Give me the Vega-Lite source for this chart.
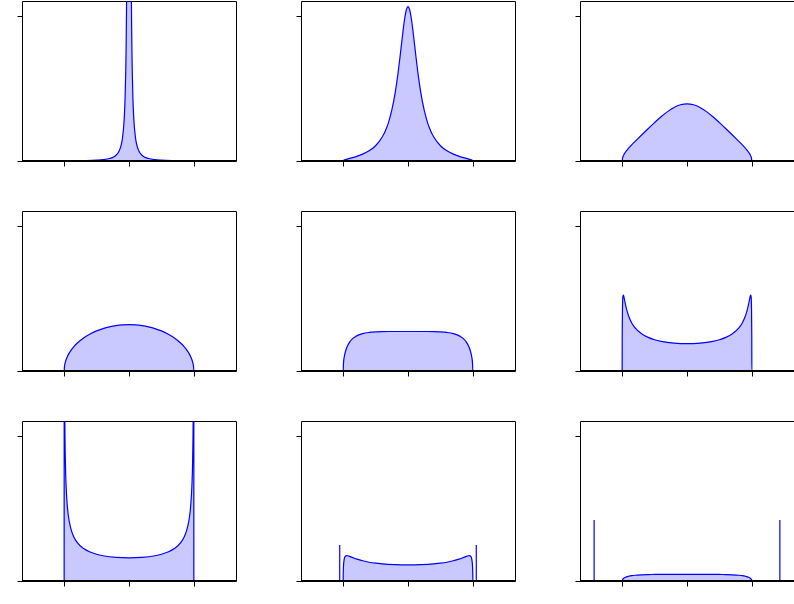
{
"$schema": "https://vega.github.io/schema/vega-lite/v6.json",
"autosize": {"type": "pad"},
"padding": {"left": 16, "top": 0, "right": 0, "bottom": 0},
"background": "white",
"config": {
  "view": {"stroke": "#000", "strokeWidth": 1},
  "axis": {"labels": false, "title": null, "grid": false, "domain": false, "tickSize": 5, "tickColor": "#000", "tickWidth": 1},
  "line": {"color": "#0000ff", "strokeWidth": 1.2, "interpolate": "monotone"},
  "area": {"color": "#0000ff", "opacity": 0.21, "interpolate": "monotone"}
},
"datasets": {"d": [
{"p":1,"x":-1.5,"y":0},{"p":1,"x":-1,"y":0},{"p":1,"x":-0.9,"y":0.0009},{"p":1,"x":-0.7,"y":0.0024},{"p":1,"x":-0.5,"y":0.0056},{"p":1,"x":-0.4,"y":0.0093},{"p":1,"x":-0.3,"y":0.0172},{"p":1,"x":-0.25,"y":0.0251},{"p":1,"x":-0.2,"y":0.0397},{"p":1,"x":-0.15,"y":0.071},{"p":1,"x":-0.12,"y":0.111},{"p":1,"x":-0.1,"y":0.16},{"p":1,"x":-0.08,"y":0.249},{"p":1,"x":-0.07,"y":0.324},{"p":1,"x":-0.06,"y":0.438},{"p":1,"x":-0.05,"y":0.623},{"p":1,"x":-0.045,"y":0.763},{"p":1,"x":-0.04,"y":0.953},{"p":1,"x":-0.035,"y":1.224},{"p":1,"x":-0.03,"y":1.621},{"p":1,"x":-0.02,"y":3.235},{"p":1,"x":-0.01,"y":8.04},{"p":1,"x":-0.005,"y":12.78},{"p":1,"x":0,"y":15.9},{"p":1,"x":0.005,"y":12.78},{"p":1,"x":0.01,"y":8.04},{"p":1,"x":0.02,"y":3.235},{"p":1,"x":0.03,"y":1.621},{"p":1,"x":0.035,"y":1.224},{"p":1,"x":0.04,"y":0.953},{"p":1,"x":0.045,"y":0.763},{"p":1,"x":0.05,"y":0.623},{"p":1,"x":0.06,"y":0.438},{"p":1,"x":0.07,"y":0.324},{"p":1,"x":0.08,"y":0.249},{"p":1,"x":0.1,"y":0.16},{"p":1,"x":0.12,"y":0.111},{"p":1,"x":0.15,"y":0.071},{"p":1,"x":0.2,"y":0.0397},{"p":1,"x":0.25,"y":0.0251},{"p":1,"x":0.3,"y":0.0172},{"p":1,"x":0.4,"y":0.0093},{"p":1,"x":0.5,"y":0.0056},{"p":1,"x":0.7,"y":0.0024},{"p":1,"x":0.9,"y":0.0009},{"p":1,"x":1,"y":0},{"p":1,"x":1.5,"y":0},
{"p":2,"x":-1.5,"y":0},{"p":2,"x":-1,"y":0},{"p":2,"x":-0.99,"y":0.005},{"p":2,"x":-0.95,"y":0.011},{"p":2,"x":-0.9,"y":0.018},{"p":2,"x":-0.8,"y":0.03},{"p":2,"x":-0.7,"y":0.047},{"p":2,"x":-0.6,"y":0.07},{"p":2,"x":-0.5,"y":0.105},{"p":2,"x":-0.4,"y":0.163},{"p":2,"x":-0.35,"y":0.207},{"p":2,"x":-0.3,"y":0.266},{"p":2,"x":-0.25,"y":0.349},{"p":2,"x":-0.2,"y":0.463},{"p":2,"x":-0.175,"y":0.535},{"p":2,"x":-0.15,"y":0.617},{"p":2,"x":-0.125,"y":0.708},{"p":2,"x":-0.1,"y":0.805},{"p":2,"x":-0.075,"y":0.9},{"p":2,"x":-0.05,"y":0.983},{"p":2,"x":-0.025,"y":1.04},{"p":2,"x":0,"y":1.061},{"p":2,"x":0.025,"y":1.04},{"p":2,"x":0.05,"y":0.983},{"p":2,"x":0.075,"y":0.9},{"p":2,"x":0.1,"y":0.805},{"p":2,"x":0.125,"y":0.708},{"p":2,"x":0.15,"y":0.617},{"p":2,"x":0.175,"y":0.535},{"p":2,"x":0.2,"y":0.463},{"p":2,"x":0.25,"y":0.349},{"p":2,"x":0.3,"y":0.266},{"p":2,"x":0.35,"y":0.207},{"p":2,"x":0.4,"y":0.163},{"p":2,"x":0.5,"y":0.105},{"p":2,"x":0.6,"y":0.07},{"p":2,"x":0.7,"y":0.047},{"p":2,"x":0.8,"y":0.03},{"p":2,"x":0.9,"y":0.018},{"p":2,"x":0.95,"y":0.011},{"p":2,"x":0.99,"y":0.005},{"p":2,"x":1,"y":0},{"p":2,"x":1.5,"y":0},
{"p":3,"x":-1.5,"y":0},{"p":3,"x":-1,"y":0},{"p":3,"x":-0.995,"y":0.018},{"p":3,"x":-0.98,"y":0.037},{"p":3,"x":-0.95,"y":0.06},{"p":3,"x":-0.9,"y":0.088},{"p":3,"x":-0.85,"y":0.113},{"p":3,"x":-0.8,"y":0.135},{"p":3,"x":-0.7,"y":0.179},{"p":3,"x":-0.6,"y":0.222},{"p":3,"x":-0.5,"y":0.264},{"p":3,"x":-0.4,"y":0.304},{"p":3,"x":-0.3,"y":0.3395},{"p":3,"x":-0.2,"y":0.368},{"p":3,"x":-0.1,"y":0.3865},{"p":3,"x":0,"y":0.393},{"p":3,"x":0.1,"y":0.3865},{"p":3,"x":0.2,"y":0.368},{"p":3,"x":0.3,"y":0.3395},{"p":3,"x":0.4,"y":0.304},{"p":3,"x":0.5,"y":0.264},{"p":3,"x":0.6,"y":0.222},{"p":3,"x":0.7,"y":0.179},{"p":3,"x":0.8,"y":0.135},{"p":3,"x":0.85,"y":0.113},{"p":3,"x":0.9,"y":0.088},{"p":3,"x":0.95,"y":0.06},{"p":3,"x":0.98,"y":0.037},{"p":3,"x":0.995,"y":0.018},{"p":3,"x":1,"y":0},{"p":3,"x":1.5,"y":0},
{"p":4,"x":-1.5,"y":0},{"p":4,"x":-1,"y":0},{"p":4,"x":-0.995,"y":0.0318},{"p":4,"x":-0.98,"y":0.0633},{"p":4,"x":-0.95,"y":0.0994},{"p":4,"x":-0.9,"y":0.1387},{"p":4,"x":-0.85,"y":0.1677},{"p":4,"x":-0.8,"y":0.191},{"p":4,"x":-0.7,"y":0.2273},{"p":4,"x":-0.6,"y":0.2546},{"p":4,"x":-0.5,"y":0.2757},{"p":4,"x":-0.4,"y":0.2917},{"p":4,"x":-0.3,"y":0.3036},{"p":4,"x":-0.2,"y":0.3119},{"p":4,"x":-0.1,"y":0.3167},{"p":4,"x":0,"y":0.3183},{"p":4,"x":0.1,"y":0.3167},{"p":4,"x":0.2,"y":0.3119},{"p":4,"x":0.3,"y":0.3036},{"p":4,"x":0.4,"y":0.2917},{"p":4,"x":0.5,"y":0.2757},{"p":4,"x":0.6,"y":0.2546},{"p":4,"x":0.7,"y":0.2273},{"p":4,"x":0.8,"y":0.191},{"p":4,"x":0.85,"y":0.1677},{"p":4,"x":0.9,"y":0.1387},{"p":4,"x":0.95,"y":0.0994},{"p":4,"x":0.98,"y":0.0633},{"p":4,"x":0.995,"y":0.0318},{"p":4,"x":1,"y":0},{"p":4,"x":1.5,"y":0},
{"p":5,"x":-1.5,"y":0},{"p":5,"x":-1,"y":0},{"p":5,"x":-0.995,"y":0.0537},{"p":5,"x":-0.98,"y":0.104},{"p":5,"x":-0.96,"y":0.1411},{"p":5,"x":-0.93,"y":0.176},{"p":5,"x":-0.9,"y":0.199},{"p":5,"x":-0.85,"y":0.2241},{"p":5,"x":-0.8,"y":0.2397},{"p":5,"x":-0.7,"y":0.257},{"p":5,"x":-0.6,"y":0.2651},{"p":5,"x":-0.5,"y":0.2689},{"p":5,"x":-0.4,"y":0.2707},{"p":5,"x":-0.3,"y":0.2714},{"p":5,"x":-0.2,"y":0.2716},{"p":5,"x":0,"y":0.2717},{"p":5,"x":0.2,"y":0.2716},{"p":5,"x":0.3,"y":0.2714},{"p":5,"x":0.4,"y":0.2707},{"p":5,"x":0.5,"y":0.2689},{"p":5,"x":0.6,"y":0.2651},{"p":5,"x":0.7,"y":0.257},{"p":5,"x":0.8,"y":0.2397},{"p":5,"x":0.85,"y":0.2241},{"p":5,"x":0.9,"y":0.199},{"p":5,"x":0.93,"y":0.176},{"p":5,"x":0.96,"y":0.1411},{"p":5,"x":0.98,"y":0.104},{"p":5,"x":0.995,"y":0.0537},{"p":5,"x":1,"y":0},{"p":5,"x":1.5,"y":0},
{"p":6,"x":-1.5,"y":0},{"p":6,"x":-1,"y":0},{"p":6,"x":-0.999,"y":0.2367},{"p":6,"x":-0.995,"y":0.4346},{"p":6,"x":-0.99,"y":0.5025},{"p":6,"x":-0.985,"y":0.5207},{"p":6,"x":-0.98,"y":0.5212},{"p":6,"x":-0.97,"y":0.5045},{"p":6,"x":-0.95,"y":0.4599},{"p":6,"x":-0.93,"y":0.4216},{"p":6,"x":-0.9,"y":0.3779},{"p":6,"x":-0.85,"y":0.3287},{"p":6,"x":-0.8,"y":0.2962},{"p":6,"x":-0.7,"y":0.2555},{"p":6,"x":-0.6,"y":0.2311},{"p":6,"x":-0.5,"y":0.2151},{"p":6,"x":-0.4,"y":0.2042},{"p":6,"x":-0.2,"y":0.192},{"p":6,"x":0,"y":0.1884},{"p":6,"x":0.2,"y":0.192},{"p":6,"x":0.4,"y":0.2042},{"p":6,"x":0.5,"y":0.2151},{"p":6,"x":0.6,"y":0.2311},{"p":6,"x":0.7,"y":0.2555},{"p":6,"x":0.8,"y":0.2962},{"p":6,"x":0.85,"y":0.3287},{"p":6,"x":0.9,"y":0.3779},{"p":6,"x":0.93,"y":0.4216},{"p":6,"x":0.95,"y":0.4599},{"p":6,"x":0.97,"y":0.5045},{"p":6,"x":0.98,"y":0.5212},{"p":6,"x":0.985,"y":0.5207},{"p":6,"x":0.99,"y":0.5025},{"p":6,"x":0.995,"y":0.4346},{"p":6,"x":0.999,"y":0.2367},{"p":6,"x":1,"y":0},{"p":6,"x":1.5,"y":0},
{"p":7,"x":-1.5,"y":0},{"p":7,"x":-1,"y":0},{"p":7,"x":-0.999,"y":3.56},{"p":7,"x":-0.995,"y":1.5936},{"p":7,"x":-0.99,"y":1.1282},{"p":7,"x":-0.98,"y":0.7998},{"p":7,"x":-0.97,"y":0.6547},{"p":7,"x":-0.95,"y":0.5097},{"p":7,"x":-0.93,"y":0.433},{"p":7,"x":-0.9,"y":0.3651},{"p":7,"x":-0.85,"y":0.3021},{"p":7,"x":-0.8,"y":0.2653},{"p":7,"x":-0.7,"y":0.2229},{"p":7,"x":-0.6,"y":0.1989},{"p":7,"x":-0.5,"y":0.1838},{"p":7,"x":-0.4,"y":0.1737},{"p":7,"x":-0.2,"y":0.1624},{"p":7,"x":0,"y":0.1592},{"p":7,"x":0.2,"y":0.1624},{"p":7,"x":0.4,"y":0.1737},{"p":7,"x":0.5,"y":0.1838},{"p":7,"x":0.6,"y":0.1989},{"p":7,"x":0.7,"y":0.2229},{"p":7,"x":0.8,"y":0.2653},{"p":7,"x":0.85,"y":0.3021},{"p":7,"x":0.9,"y":0.3651},{"p":7,"x":0.93,"y":0.433},{"p":7,"x":0.95,"y":0.5097},{"p":7,"x":0.97,"y":0.6547},{"p":7,"x":0.98,"y":0.7998},{"p":7,"x":0.99,"y":1.1282},{"p":7,"x":0.995,"y":1.5936},{"p":7,"x":0.999,"y":3.56},{"p":7,"x":1,"y":0},{"p":7,"x":1.5,"y":0},
{"p":8,"x":-1.5,"y":0},{"p":8,"x":-1,"y":0},{"p":8,"x":-0.999,"y":0.048},{"p":8,"x":-0.995,"y":0.1},{"p":8,"x":-0.99,"y":0.13},{"p":8,"x":-0.98,"y":0.157},{"p":8,"x":-0.97,"y":0.1675},{"p":8,"x":-0.95,"y":0.174},{"p":8,"x":-0.93,"y":0.1735},{"p":8,"x":-0.9,"y":0.169},{"p":8,"x":-0.85,"y":0.161},{"p":8,"x":-0.8,"y":0.152},{"p":8,"x":-0.7,"y":0.139},{"p":8,"x":-0.6,"y":0.129},{"p":8,"x":-0.5,"y":0.1225},{"p":8,"x":-0.4,"y":0.118},{"p":8,"x":-0.2,"y":0.1124},{"p":8,"x":0,"y":0.1105},{"p":8,"x":0.2,"y":0.1124},{"p":8,"x":0.4,"y":0.118},{"p":8,"x":0.5,"y":0.1225},{"p":8,"x":0.6,"y":0.129},{"p":8,"x":0.7,"y":0.139},{"p":8,"x":0.8,"y":0.152},{"p":8,"x":0.85,"y":0.161},{"p":8,"x":0.9,"y":0.169},{"p":8,"x":0.93,"y":0.1735},{"p":8,"x":0.95,"y":0.174},{"p":8,"x":0.97,"y":0.1675},{"p":8,"x":0.98,"y":0.157},{"p":8,"x":0.99,"y":0.13},{"p":8,"x":0.995,"y":0.1},{"p":8,"x":0.999,"y":0.048},{"p":8,"x":1,"y":0},{"p":8,"x":1.5,"y":0},
{"p":9,"x":-1.5,"y":0},{"p":9,"x":-1,"y":0},{"p":9,"x":-0.995,"y":0.0088},{"p":9,"x":-0.98,"y":0.0171},{"p":9,"x":-0.95,"y":0.0255},{"p":9,"x":-0.9,"y":0.0329},{"p":9,"x":-0.85,"y":0.0371},{"p":9,"x":-0.8,"y":0.0397},{"p":9,"x":-0.7,"y":0.0427},{"p":9,"x":-0.6,"y":0.0442},{"p":9,"x":-0.5,"y":0.0449},{"p":9,"x":-0.4,"y":0.0452},{"p":9,"x":-0.2,"y":0.0455},{"p":9,"x":0,"y":0.0455},{"p":9,"x":0.2,"y":0.0455},{"p":9,"x":0.4,"y":0.0452},{"p":9,"x":0.5,"y":0.0449},{"p":9,"x":0.6,"y":0.0442},{"p":9,"x":0.7,"y":0.0427},{"p":9,"x":0.8,"y":0.0397},{"p":9,"x":0.85,"y":0.0371},{"p":9,"x":0.9,"y":0.0329},{"p":9,"x":0.95,"y":0.0255},{"p":9,"x":0.98,"y":0.0171},{"p":9,"x":0.995,"y":0.0088},{"p":9,"x":1,"y":0},{"p":9,"x":1.5,"y":0},
{"p":8,"x":-1.053,"h":0.248},{"p":8,"x":1.053,"h":0.248},
{"p":9,"x":-1.432,"h":0.42},{"p":9,"x":1.432,"h":0.42}
]},
"columns": 3,
"spacing": {"row": 50, "column": 65},
"bounds": "flush",
"concat": [
{"width":214,"height":160,"data":{"name":"d"},"transform":[{"filter":"datum.p==1"}],"layer":[
 {"transform":[{"filter":"isValid(datum.y)"}],"mark":{"type":"area","clip":true},"encoding":{"x":{"field":"x","type":"quantitative","scale":{"domain":[-1.65,1.65],"nice":false,"zero":false},"axis":{"values":[-1,0,1]}},"y":{"field":"y","type":"quantitative","scale":{"domain":[0,1.1],"nice":false},"axis":{"values":[0,1]}}}},
 {"transform":[{"filter":"isValid(datum.y)"}],"mark":{"type":"line","clip":true},"encoding":{"x":{"field":"x","type":"quantitative"},"y":{"field":"y","type":"quantitative"}}},
 {"mark":{"type":"rule","color":"#000","strokeWidth":1},"encoding":{"y":{"datum":0}}}
]},
{"width":214,"height":160,"data":{"name":"d"},"transform":[{"filter":"datum.p==2"}],"layer":[
 {"transform":[{"filter":"isValid(datum.y)"}],"mark":{"type":"area","clip":true},"encoding":{"x":{"field":"x","type":"quantitative","scale":{"domain":[-1.65,1.65],"nice":false,"zero":false},"axis":{"values":[-1,0,1]}},"y":{"field":"y","type":"quantitative","scale":{"domain":[0,1.1],"nice":false},"axis":{"values":[0,1]}}}},
 {"transform":[{"filter":"isValid(datum.y)"}],"mark":{"type":"line","clip":true},"encoding":{"x":{"field":"x","type":"quantitative"},"y":{"field":"y","type":"quantitative"}}},
 {"mark":{"type":"rule","color":"#000","strokeWidth":1},"encoding":{"y":{"datum":0}}}
]},
{"width":214,"height":160,"data":{"name":"d"},"transform":[{"filter":"datum.p==3"}],"layer":[
 {"transform":[{"filter":"isValid(datum.y)"}],"mark":{"type":"area","clip":true},"encoding":{"x":{"field":"x","type":"quantitative","scale":{"domain":[-1.65,1.65],"nice":false,"zero":false},"axis":{"values":[-1,0,1]}},"y":{"field":"y","type":"quantitative","scale":{"domain":[0,1.1],"nice":false},"axis":{"values":[0,1]}}}},
 {"transform":[{"filter":"isValid(datum.y)"}],"mark":{"type":"line","clip":true},"encoding":{"x":{"field":"x","type":"quantitative"},"y":{"field":"y","type":"quantitative"}}},
 {"mark":{"type":"rule","color":"#000","strokeWidth":1},"encoding":{"y":{"datum":0}}}
]},
{"width":214,"height":160,"data":{"name":"d"},"transform":[{"filter":"datum.p==4"}],"layer":[
 {"transform":[{"filter":"isValid(datum.y)"}],"mark":{"type":"area","clip":true},"encoding":{"x":{"field":"x","type":"quantitative","scale":{"domain":[-1.65,1.65],"nice":false,"zero":false},"axis":{"values":[-1,0,1]}},"y":{"field":"y","type":"quantitative","scale":{"domain":[0,1.1],"nice":false},"axis":{"values":[0,1]}}}},
 {"transform":[{"filter":"isValid(datum.y)"}],"mark":{"type":"line","clip":true},"encoding":{"x":{"field":"x","type":"quantitative"},"y":{"field":"y","type":"quantitative"}}},
 {"mark":{"type":"rule","color":"#000","strokeWidth":1},"encoding":{"y":{"datum":0}}}
]},
{"width":214,"height":160,"data":{"name":"d"},"transform":[{"filter":"datum.p==5"}],"layer":[
 {"transform":[{"filter":"isValid(datum.y)"}],"mark":{"type":"area","clip":true},"encoding":{"x":{"field":"x","type":"quantitative","scale":{"domain":[-1.65,1.65],"nice":false,"zero":false},"axis":{"values":[-1,0,1]}},"y":{"field":"y","type":"quantitative","scale":{"domain":[0,1.1],"nice":false},"axis":{"values":[0,1]}}}},
 {"transform":[{"filter":"isValid(datum.y)"}],"mark":{"type":"line","clip":true},"encoding":{"x":{"field":"x","type":"quantitative"},"y":{"field":"y","type":"quantitative"}}},
 {"mark":{"type":"rule","color":"#000","strokeWidth":1},"encoding":{"y":{"datum":0}}}
]},
{"width":214,"height":160,"data":{"name":"d"},"transform":[{"filter":"datum.p==6"}],"layer":[
 {"transform":[{"filter":"isValid(datum.y)"}],"mark":{"type":"area","clip":true},"encoding":{"x":{"field":"x","type":"quantitative","scale":{"domain":[-1.65,1.65],"nice":false,"zero":false},"axis":{"values":[-1,0,1]}},"y":{"field":"y","type":"quantitative","scale":{"domain":[0,1.1],"nice":false},"axis":{"values":[0,1]}}}},
 {"transform":[{"filter":"isValid(datum.y)"}],"mark":{"type":"line","clip":true},"encoding":{"x":{"field":"x","type":"quantitative"},"y":{"field":"y","type":"quantitative"}}},
 {"mark":{"type":"rule","color":"#000","strokeWidth":1},"encoding":{"y":{"datum":0}}}
]},
{"width":214,"height":160,"data":{"name":"d"},"transform":[{"filter":"datum.p==7"}],"layer":[
 {"transform":[{"filter":"isValid(datum.y)"}],"mark":{"type":"area","clip":true},"encoding":{"x":{"field":"x","type":"quantitative","scale":{"domain":[-1.65,1.65],"nice":false,"zero":false},"axis":{"values":[-1,0,1]}},"y":{"field":"y","type":"quantitative","scale":{"domain":[0,1.1],"nice":false},"axis":{"values":[0,1]}}}},
 {"transform":[{"filter":"isValid(datum.y)"}],"mark":{"type":"line","clip":true},"encoding":{"x":{"field":"x","type":"quantitative"},"y":{"field":"y","type":"quantitative"}}},
 {"mark":{"type":"rule","color":"#000","strokeWidth":1},"encoding":{"y":{"datum":0}}}
]},
{"width":214,"height":160,"data":{"name":"d"},"transform":[{"filter":"datum.p==8"}],"layer":[
 {"transform":[{"filter":"isValid(datum.y)"}],"mark":{"type":"area","clip":true},"encoding":{"x":{"field":"x","type":"quantitative","scale":{"domain":[-1.65,1.65],"nice":false,"zero":false},"axis":{"values":[-1,0,1]}},"y":{"field":"y","type":"quantitative","scale":{"domain":[0,1.1],"nice":false},"axis":{"values":[0,1]}}}},
 {"transform":[{"filter":"isValid(datum.y)"}],"mark":{"type":"line","clip":true},"encoding":{"x":{"field":"x","type":"quantitative"},"y":{"field":"y","type":"quantitative"}}},
 {"transform":[{"filter":"isValid(datum.h)"}],"mark":{"type":"rule","color":"#0000ff","strokeWidth":1.2},"encoding":{"x":{"field":"x","type":"quantitative"},"y":{"field":"h","type":"quantitative"},"y2":{"datum":0}}},
 {"mark":{"type":"rule","color":"#000","strokeWidth":1},"encoding":{"y":{"datum":0}}}
]},
{"width":214,"height":160,"data":{"name":"d"},"transform":[{"filter":"datum.p==9"}],"layer":[
 {"transform":[{"filter":"isValid(datum.y)"}],"mark":{"type":"area","clip":true},"encoding":{"x":{"field":"x","type":"quantitative","scale":{"domain":[-1.65,1.65],"nice":false,"zero":false},"axis":{"values":[-1,0,1]}},"y":{"field":"y","type":"quantitative","scale":{"domain":[0,1.1],"nice":false},"axis":{"values":[0,1]}}}},
 {"transform":[{"filter":"isValid(datum.y)"}],"mark":{"type":"line","clip":true},"encoding":{"x":{"field":"x","type":"quantitative"},"y":{"field":"y","type":"quantitative"}}},
 {"transform":[{"filter":"isValid(datum.h)"}],"mark":{"type":"rule","color":"#0000ff","strokeWidth":1.2},"encoding":{"x":{"field":"x","type":"quantitative"},"y":{"field":"h","type":"quantitative"},"y2":{"datum":0}}},
 {"mark":{"type":"rule","color":"#000","strokeWidth":1},"encoding":{"y":{"datum":0}}}
]}
]
}
